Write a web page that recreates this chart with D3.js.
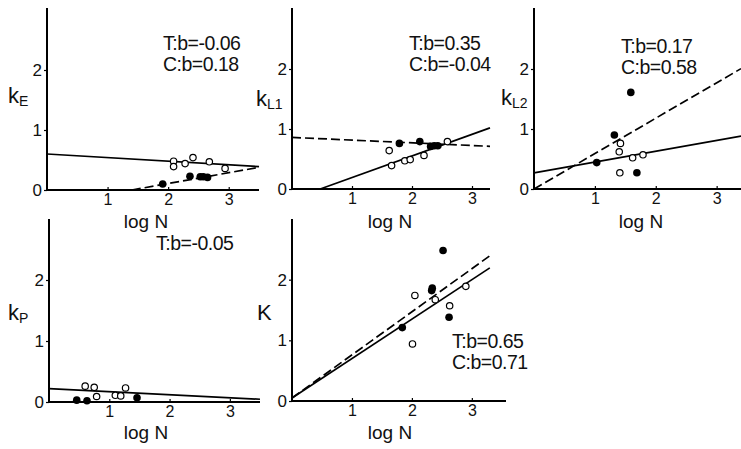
<!DOCTYPE html>
<html><head><meta charset="utf-8">
<script src="https://cdn.jsdelivr.net/npm/d3@7"></script>
<style>
body{margin:0;background:#fff;}
svg{display:block;font-family:"Liberation Sans",Arial,Helvetica,sans-serif;}
</style></head>
<body>
<svg id="c" width="741" height="449"></svg>
<script>
// ---- data (x = log N, y = rate constant) ----
const xTicks = [1, 2, 3];
const yTicks = [0, 1, 2];

const kE_T_open   = [[2.09,0.48],[2.09,0.39],[2.28,0.44],[2.41,0.54],[2.68,0.47],[2.94,0.36]];
const kE_C_filled = [[1.91,0.10],[2.36,0.23],[2.53,0.22],[2.58,0.22],[2.65,0.21]];
const kE_T_fit = {a: 0.60, b: -0.06, from: 0, to: 3.5};
const kE_C_fit = {a: -0.252, b: 0.18, from: 1.4, to: 3.5};
const kE_labels = ["T:b=-0.06", "C:b=0.18"];

const kL1_T_open   = [[1.62,0.64],[1.66,0.39],[1.88,0.47],[1.97,0.49],[2.20,0.56],[2.59,0.79]];
const kL1_C_filled = [[1.79,0.76],[2.13,0.79],[2.31,0.71],[2.37,0.72],[2.43,0.72]];
const kL1_T_fit = {a: -0.17, b: 0.36, from: 0.47, to: 3.3};
const kL1_C_fit = {a: 0.86, b: -0.045, from: 0, to: 3.3};
const kL1_labels = ["T:b=0.35", "C:b=-0.04"];

const kL2_T_open   = [[1.42,0.76],[1.40,0.62],[1.41,0.27],[1.62,0.52],[1.79,0.57]];
const kL2_C_filled = [[1.03,0.44],[1.32,0.90],[1.59,1.61],[1.69,0.27]];
const kL2_T_fit = {a: 0.27, b: 0.18, from: 0, to: 3.4};
const kL2_C_fit = {a: 0.0, b: 0.59, from: 0, to: 3.4};
const kL2_labels = ["T:b=0.17", "C:b=0.58"];

const kP_T_open   = [[0.60,0.26],[0.75,0.24],[0.79,0.09],[1.10,0.11],[1.19,0.10],[1.27,0.23]];
const kP_C_filled = [[0.46,0.03],[0.63,0.02],[1.46,0.07]];
const kP_T_fit = {a: 0.22, b: -0.05, from: 0, to: 3.5};
const kP_labels = ["T:b=-0.05"];

const K_T_open   = [[2.05,1.74],[2.01,0.94],[2.39,1.67],[2.63,1.57],[2.90,1.89]];
const K_C_filled = [[2.52,2.48],[2.34,1.86],[2.33,1.82],[2.62,1.38],[1.84,1.21]];
const K_T_fit = {a: 0.05, b: 0.65, from: 0, to: 3.3};
const K_C_fit = {a: 0.05, b: 0.71, from: 0, to: 3.3};
const K_labels = ["T:b=0.65", "C:b=0.71"];

// ---- layout ----
const panels = [
  {ylab:"k", sub:"E", xmax:3.5, px:[47,259], py:[190,10], top:8,
   open:kE_T_open, filled:kE_C_filled, solid:kE_T_fit, dashed:kE_C_fit, labels:kE_labels,
   labPos:[163,50], ylabPos:[8,103], xlabPos:[146,228]},
  {ylab:"k", sub:"L1", xmax:3.3, px:[292,490], py:[189,9], top:8,
   open:kL1_T_open, filled:kL1_C_filled, solid:kL1_T_fit, dashed:kL1_C_fit, labels:kL1_labels,
   labPos:[409,50], ylabPos:[256,106], xlabPos:[390,228]},
  {ylab:"k", sub:"L2", xmax:3.4, px:[534,741], py:[189,9], top:8,
   open:kL2_T_open, filled:kL2_C_filled, solid:kL2_T_fit, dashed:kL2_C_fit, labels:kL2_labels,
   labPos:[621,53], ylabPos:[501,105], xlabPos:[641,228]},
  {ylab:"k", sub:"P", xmax:3.5, px:[49,260], py:[402,219], top:219,
   open:kP_T_open, filled:kP_C_filled, solid:kP_T_fit, dashed:null, labels:kP_labels,
   labPos:[156,250], ylabPos:[8,320], xlabPos:[146,439]},
  {ylab:"K", sub:"", xmax:3.57, px:[292,506], py:[401,219], top:219,
   open:K_T_open, filled:K_C_filled, solid:K_T_fit, dashed:K_C_fit, labels:K_labels,
   labPos:[452,348], ylabPos:[257,320], xlabPos:[390,439]}
];

const svg = d3.select("#c");

panels.forEach(p => {
  const x = d3.scaleLinear().domain([0, p.xmax]).range(p.px);
  const y = d3.scaleLinear().domain([0, 3]).range(p.py);
  const g = svg.append("g");

  // x axis
  const xa = d3.axisBottom(x).tickValues(xTicks).tickSize(-3).tickPadding(4).tickFormat(d3.format("d"));
  const gx = g.append("g").attr("transform", `translate(0,${p.py[0]})`).call(xa);
  gx.select(".domain").attr("stroke-width", 2).attr("d", `M${p.px[0]},0H${p.px[1]}`);
  gx.selectAll(".tick line").attr("stroke-width", 1.2);
  gx.selectAll(".tick text").attr("font-size", 16).attr("fill", "#111").attr("font-family", null);

  // y axis
  const ya = d3.axisLeft(y).tickValues(yTicks).tickSize(3).tickPadding(2).tickFormat(d3.format("d"));
  const gy = g.append("g").attr("transform", `translate(${p.px[0]},0)`).call(ya);
  gy.select(".domain").attr("stroke-width", 2).attr("d", `M0,${p.py[0]}V${p.top}`);
  gy.selectAll(".tick line").attr("stroke-width", 1.2);
  gy.selectAll(".tick text").attr("font-size", 17).attr("fill", "#111").attr("font-family", null);

  // fitted lines
  const line = d3.line().x(d => x(d[0])).y(d => y(d[1]));
  const fitPts = f => [[f.from, f.a + f.b * f.from], [f.to, f.a + f.b * f.to]];
  g.append("path").attr("d", line(fitPts(p.solid))).attr("fill", "none")
    .attr("stroke", "#000").attr("stroke-width", 1.7);
  if (p.dashed) {
    g.append("path").attr("d", line(fitPts(p.dashed))).attr("fill", "none")
      .attr("stroke", "#000").attr("stroke-width", 1.7).attr("stroke-dasharray", "9,4");
  }

  // points
  g.selectAll(".o").data(p.open).join("circle")
    .attr("cx", d => x(d[0])).attr("cy", d => y(d[1])).attr("r", 3.2)
    .attr("fill", "#fff").attr("stroke", "#000").attr("stroke-width", 1.2);
  g.selectAll(".f").data(p.filled).join("circle")
    .attr("cx", d => x(d[0])).attr("cy", d => y(d[1])).attr("r", 3.8)
    .attr("fill", "#000");

  // annotations
  p.labels.forEach((t, i) => {
    g.append("text").attr("x", p.labPos[0]).attr("y", p.labPos[1] + i * 21)
      .attr("font-size", 19.5).attr("letter-spacing", -0.5).attr("fill", "#111").text(t);
  });

  // y label
  const yl = g.append("text").attr("x", p.ylabPos[0]).attr("y", p.ylabPos[1]).attr("fill", "#111");
  yl.append("tspan").attr("font-size", 22).text(p.ylab);
  if (p.sub) yl.append("tspan").attr("font-size", 14).attr("dy", 3).text(p.sub);

  // x label
  g.append("text").attr("x", p.xlabPos[0]).attr("y", p.xlabPos[1]).attr("text-anchor", "middle")
    .attr("font-size", 19).attr("fill", "#111").text("log N");
});
</script>
</body></html>
